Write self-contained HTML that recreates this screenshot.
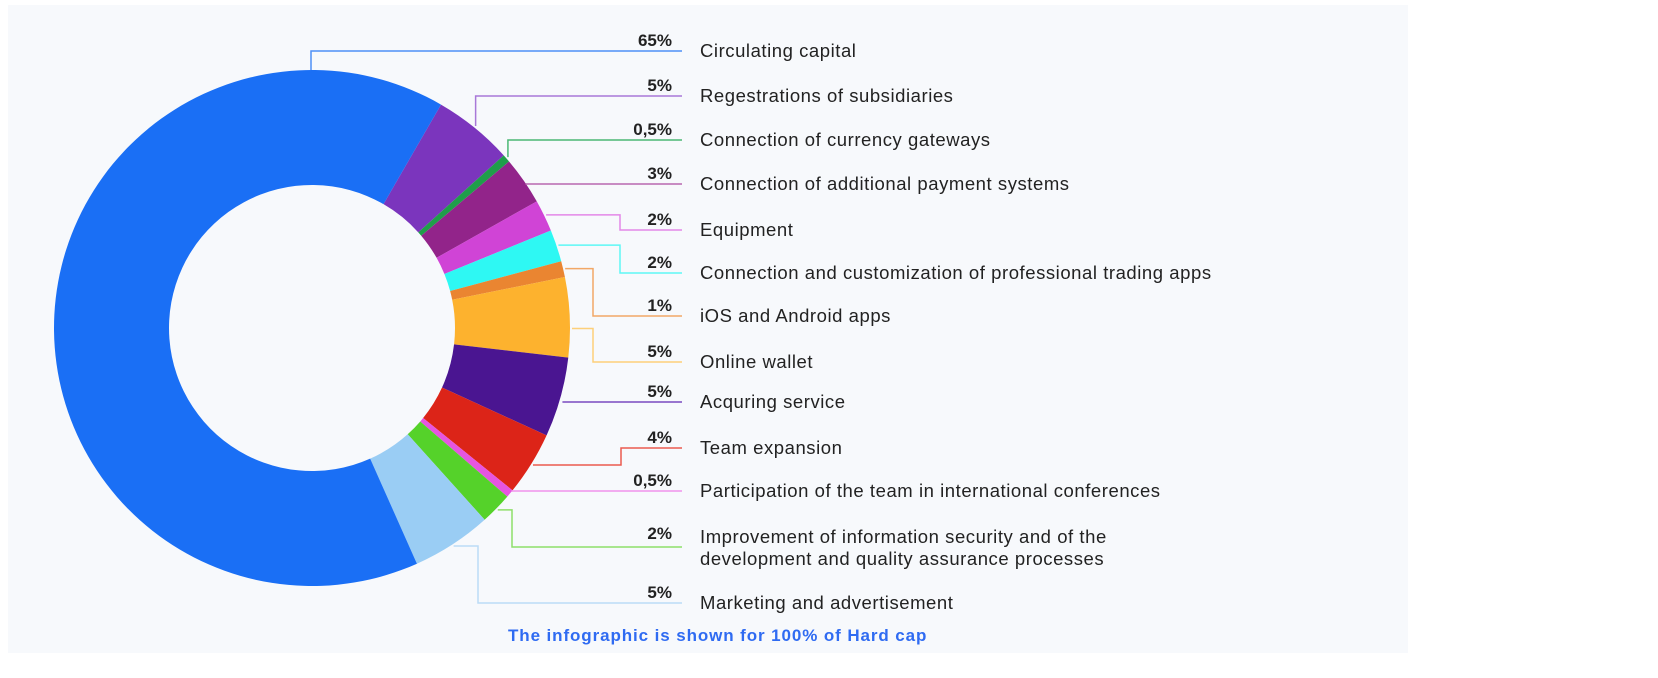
<!DOCTYPE html>
<html><head><meta charset="utf-8"><style>
html,body{margin:0;padding:0;background:#fff;width:1658px;height:678px;overflow:hidden}
svg{display:block}
text{font-family:"Liberation Sans",sans-serif}
</style></head><body>
<svg id="chart" width="1658" height="678">
<rect x="8" y="5" width="1400" height="648" fill="#f7f9fc"/>
<g id="slices"></g>
<g id="leaders"></g>
<g id="labels"></g>
<text x="508" y="641" font-size="17" font-weight="bold" letter-spacing="0.9" fill="#2f6bf2">The infographic is shown for 100% of Hard cap</text>
</svg>
<script>
const categories = ["Circulating capital","Regestrations of subsidiaries","Connection of currency gateways","Connection of additional payment systems","Equipment","Connection and customization of professional trading apps","iOS and Android apps","Online wallet","Acquring service","Team expansion","Participation of the team in international conferences","Improvement of information security and of the|development and quality assurance processes","Marketing and advertisement"];
const values = [65,5,0.5,3,2,2,1,5,5,4,0.5,2,5];
const valueLabels = ["65%","5%","0,5%","3%","2%","2%","1%","5%","5%","4%","0,5%","2%","5%"];
const colors = ["#1a6ff5","#7b35bd","#1f9e4a","#92248a","#d044d6","#2ef8f3","#ea8531","#fdb22e","#4a1591","#dc2418","#e655e0","#55d22a","#9acdf4"];
const lineColors = ["#4f8ff7","#a878d8","#4bb874","#b868b0","#e488e8","#5ef8f5","#f2a866","#fdd07a","#7a4ac0","#ec5a4e","#f092ec","#8ee06a","#bcdcf6"];

const NS="http://www.w3.org/2000/svg";
const cx=312, cy=328, R=258, r=143;
const startDeg=30;
const total=values.reduce((a,b)=>a+b,0);
function pt(deg,rad){const a=(deg-90)*Math.PI/180;return [cx+rad*Math.cos(a),cy+rad*Math.sin(a)];}
function mk(tag,attrs,parent){const e=document.createElementNS(NS,tag);for(const k in attrs)e.setAttribute(k,attrs[k]);parent.appendChild(e);return e;}
const slicesG=document.getElementById('slices');
let ang=startDeg;
const order=[];for(let i=1;i<values.length;i++)order.push(i);order.push(0);
const mids=[];
order.forEach(i=>{
  const sweep=values[i]/total*360;
  const a0=ang,a1=ang+sweep;ang=a1;
  mids[i]=(a0+a1)/2;
  const [x0,y0]=pt(a0,R),[x1,y1]=pt(a1,R),[x2,y2]=pt(a1,r),[x3,y3]=pt(a0,r);
  const large=sweep>180?1:0;
  const p=mk('path',{d:`M${x0},${y0}A${R},${R} 0 ${large} 1 ${x1},${y1}L${x2},${y2}A${r},${r} 0 ${large} 0 ${x3},${y3}Z`,fill:colors[i]},slicesG);
  
  
});
const rowY=[51,96,140,184,230,273,316,362,402,448,491,547,603];
const leadersG=document.getElementById('leaders');
const labelsG=document.getElementById('labels');
const lineEnd=682, elbowX=[null,null,null,null,620,620,593,593,null,621,null,512,478];
categories.forEach((c,i)=>{
  const ly=rowY[i];
  let pts;
  if(i===0){pts=[[311,70],[311,ly],[lineEnd,ly]];}
  else{
    let [sx,sy]=pt(mids[i],R+2);
    if(i===7){[sx,sy]=pt(mids[i]+2.5,R+2);}
    if(elbowX[i]===null){
      if(Math.abs(sy-ly)<6) pts=[[sx,ly],[lineEnd,ly]];
      else pts=[[sx,sy],[sx,ly],[lineEnd,ly]];
    } else pts=[[sx,sy],[elbowX[i],sy],[elbowX[i],ly],[lineEnd,ly]];
  }
  const pl=mk('polyline',{points:pts.map(p=>p.join(',')).join(' '),fill:'none',stroke:lineColors[i],'stroke-width':1.5},leadersG);
  
  
  const parts=c.split('|');
  const pctY=parts.length>1?ly-8:ly-5;
  const t=mk('text',{x:672,y:pctY,'text-anchor':'end','font-size':17,'font-weight':'bold',fill:'#222'},labelsG);
  t.textContent=valueLabels[i];
  
  
  parts.forEach((s,k)=>{
    const yy=parts.length>1?(ly-4+k*22):(ly+6);
    const tl=mk('text',{x:700,y:yy,'font-size':18.5,fill:'#222','letter-spacing':'0.55'},labelsG);
    tl.textContent=s;
    
    
  });
});
</script>
</body></html>
